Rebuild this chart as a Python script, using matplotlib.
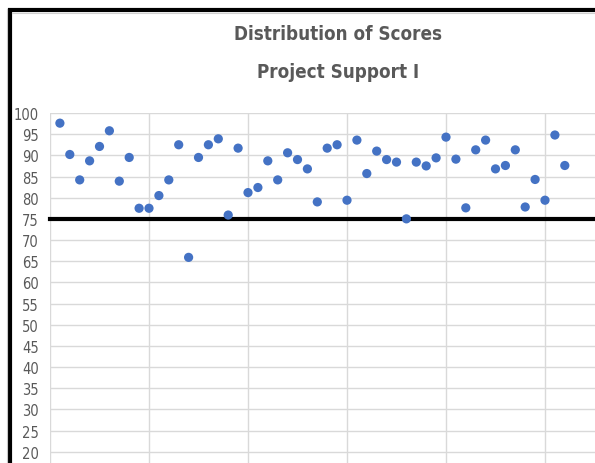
import matplotlib
matplotlib.use("Agg")
import matplotlib.pyplot as plt
from matplotlib.lines import Line2D

# ---- data ----
respondent = list(range(1, 53))
scores = [97.6, 90.2, 84.2, 88.7, 92.1, 95.8, 83.9, 89.5, 77.5, 77.5,
          80.5, 84.2, 92.5, 65.9, 89.5, 92.5, 93.9, 75.9, 91.7, 81.2,
          82.4, 88.7, 84.2, 90.6, 89.0, 86.8, 79.0, 91.7, 92.5, 79.4,
          93.6, 85.7, 91.0, 89.0, 88.4, 75.0, 88.4, 87.5, 89.4, 94.3,
          89.1, 77.6, 91.3, 93.6, 86.8, 87.6, 91.3, 77.8, 84.3, 79.4,
          94.8, 87.6]
threshold = 75
y_ticks = list(range(20, 101, 5))
x_grid = list(range(0, 51, 10))
title_lines = ["Distribution of Scores", "Project Support I"]

plt.rcParams['font.family'] = ['DejaVu Sans']
plt.rcParams['font.stretch'] = 'condensed'

W, H = 595, 464
fig = plt.figure(figsize=(W / 100, H / 100), dpi=100)

# axes geometry in pixels
left_px, top_px = 50, 114
ax = fig.add_axes([left_px / W, 0, 1 - left_px / W, 1 - top_px / H])
ppu_y = (452.7 - 114) / 80.0
ymin = 20 - (H - 452.7) / ppu_y
ax.set_ylim(ymin, 100)
ppu_x = 9.9
ax.set_xlim(0, (W - left_px) / ppu_x)

ax.set_yticks(y_ticks)
ax.set_xticks(x_grid)
ax.set_xticklabels([])
ax.tick_params(axis='both', length=0)
ax.tick_params(axis='y', pad=8, labelsize=10.5, labelcolor='#595959')
for lab in ax.get_yticklabels():
    lab.set_fontstretch('condensed')
ax.grid(True, color='#d9d9d9', linewidth=1.0, zorder=0)
ax.set_axisbelow(True)
for s in ax.spines.values():
    s.set_visible(False)
ax.patch.set_alpha(0)

ax.axhline(threshold, color='black', linewidth=3.0, zorder=2, clip_on=False)
ax.scatter(respondent, scores, s=44, color='#4472C4', zorder=3,
           edgecolors='none', clip_on=False)

# title
fig.text(338 / W, 1 - 34 / H, title_lines[0], ha='center', va='center',
         fontsize=13.5, fontweight='bold', color='#595959', fontstretch='condensed')
fig.text(338 / W, 1 - 72 / H, title_lines[1], ha='center', va='center',
         fontsize=13.5, fontweight='bold', color='#595959', fontstretch='condensed')

# frame borders (cropped chart border)
fig.add_artist(Line2D([8 / W, 1], [1 - 11.3 / H, 1 - 11.3 / H],
                      color='black', linewidth=3.0, transform=fig.transFigure,
                      solid_capstyle='butt'))
fig.add_artist(Line2D([10.3 / W, 10.3 / W], [0, 1 - 9.3 / H],
                      color='black', linewidth=3.0, transform=fig.transFigure,
                      solid_capstyle='butt'))
fig.add_artist(Line2D([6.7 / W, 6.7 / W], [0, 1 - 10 / H],
                      color='#c8c8c8', linewidth=0.8, transform=fig.transFigure))
fig.add_artist(Line2D([12 / W, 1], [1 - 14 / H, 1 - 14 / H],
                      color='#d0d0d0', linewidth=0.8, transform=fig.transFigure))

fig.savefig("out.png", dpi=100)
